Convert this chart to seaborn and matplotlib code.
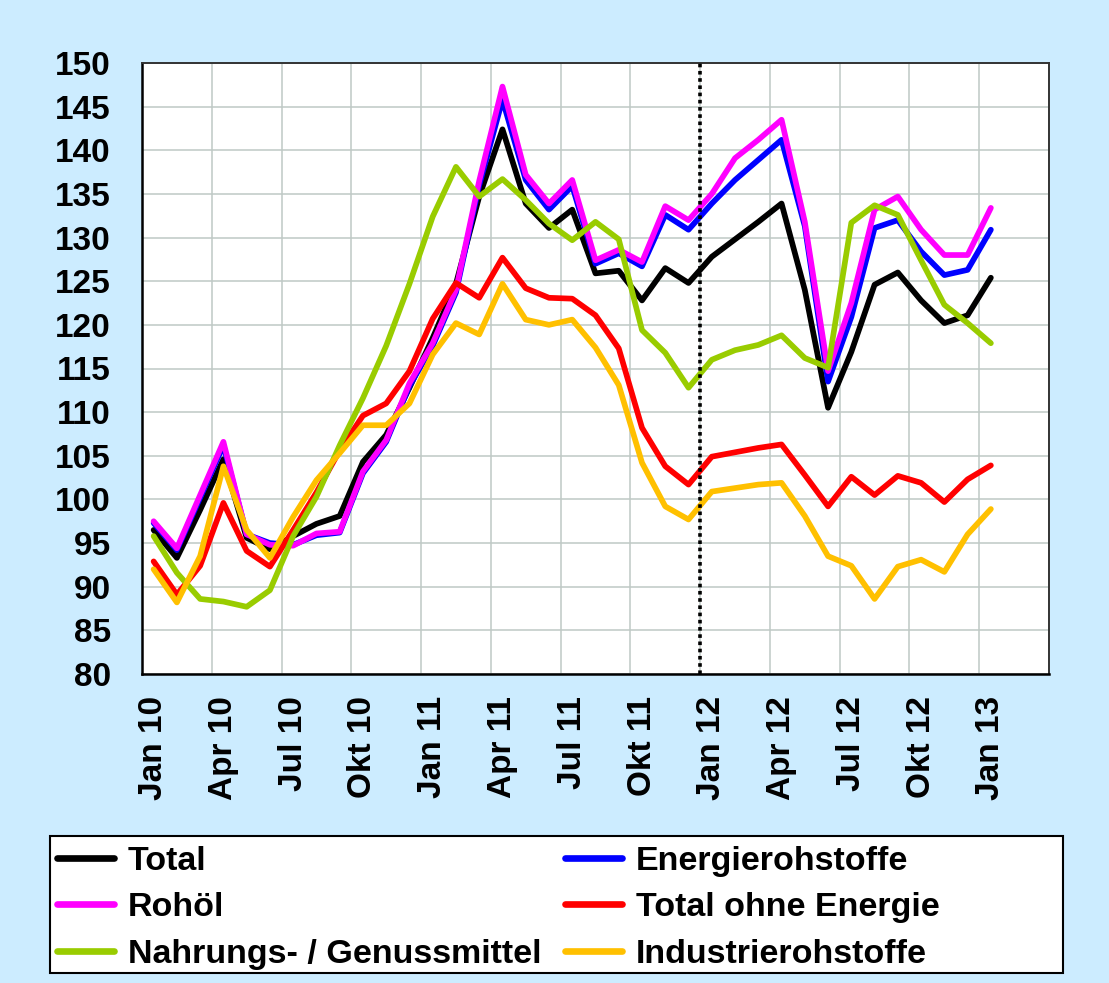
import numpy as np
import pandas as pd
import matplotlib
matplotlib.use("Agg")
import matplotlib.pyplot as plt
import seaborn as sns
from matplotlib.lines import Line2D
from matplotlib.patches import Rectangle

# ---------------- data ----------------
tick_labels = ["Jan 10", "Apr 10", "Jul 10", "Okt 10", "Jan 11", "Apr 11", "Jul 11",
               "Okt 11", "Jan 12", "Apr 12", "Jul 12", "Okt 12", "Jan 13"]

total = [96.5, 93.3, 98.8, 104.6, 95.6, 94.3, 95.8, 97.2, 98.1, 104.3, 107.4, 112.8,
         118.5, 124.7, 134.7, 142.4, 133.9, 131.1, 133.2, 125.9, 126.2, 122.8, 126.5, 124.8,
         127.8, 129.8, 131.8, 133.9, 124.0, 110.5, 116.9, 124.6, 126.0, 122.8, 120.2, 121.1,
         125.4]
energie = [97.3, 94.2, 100.2, 106.2, 96.0, 95.0, 94.8, 95.9, 96.2, 103.0, 106.6, 113.0,
           117.6, 123.7, 136.0, 145.8, 136.6, 133.2, 135.9, 127.0, 128.2, 126.7, 132.6, 130.9,
           133.9, 136.6, 138.9, 141.2, 131.3, 113.5, 120.9, 131.1, 132.0, 128.4, 125.7, 126.3,
           130.9]
rohoel = [97.5, 94.4, 100.5, 106.6, 96.0, 94.8, 94.7, 96.1, 96.3, 103.2, 106.8, 113.3,
          117.9, 124.0, 136.5, 147.3, 137.2, 133.9, 136.6, 127.4, 128.6, 127.2, 133.6, 132.0,
          135.0, 139.1, 141.2, 143.5, 131.8, 114.7, 122.5, 133.2, 134.7, 130.9, 128.0, 128.0,
          133.4]
ohne_energie = [92.9, 89.1, 92.4, 99.6, 94.1, 92.3, 96.5, 100.8, 105.6, 109.6, 111.0, 114.7,
                120.7, 124.8, 123.1, 127.7, 124.2, 123.1, 123.0, 121.1, 117.3, 108.2, 103.8, 101.7,
                104.9, 105.4, 105.9, 106.3, 102.8, 99.2, 102.6, 100.5, 102.7, 101.9, 99.7, 102.3,
                103.9]
nahrung = [95.8, 91.6, 88.6, 88.3, 87.7, 89.6, 95.8, 100.3, 106.2, 111.6, 117.6, 124.7,
           132.4, 138.1, 134.7, 136.7, 134.3, 131.6, 129.7, 131.8, 129.8, 119.4, 116.8, 112.8,
           116.0, 117.1, 117.7, 118.8, 116.2, 115.1, 131.7, 133.7, 132.6, 127.4, 122.3, 120.2,
           117.9]
industrie = [92.0, 88.2, 93.5, 103.8, 96.5, 93.3, 98.0, 102.2, 105.3, 108.5, 108.5, 111.0,
             116.6, 120.2, 118.9, 124.7, 120.6, 120.0, 120.6, 117.4, 113.1, 104.2, 99.2, 97.7,
             100.9, 101.3, 101.7, 101.9, 98.1, 93.5, 92.4, 88.6, 92.3, 93.1, 91.7, 96.0,
             98.9]

series_names = ["Total", "Energierohstoffe", "Rohöl", "Total ohne Energie",
                "Nahrungs- / Genussmittel", "Industrierohstoffe"]
series_values = [total, energie, rohoel, ohne_energie, nahrung, industrie]
series_colors = ["#000000", "#0000FF", "#FF00FF", "#FF0000", "#99CC00", "#FFC000"]

# ---------------- style ----------------
sns.set_style("white")
plt.rcParams["font.family"] = ["Liberation Sans", "DejaVu Sans"]
plt.rcParams["font.weight"] = "bold"
plt.rcParams["text.color"] = "black"
plt.rcParams["xtick.color"] = "black"
plt.rcParams["ytick.color"] = "black"
plt.rcParams["xtick.labelcolor"] = "black"
plt.rcParams["ytick.labelcolor"] = "black"

W, H = 1109, 983
fig = plt.figure(figsize=(W / 100, H / 100), dpi=100, facecolor="#CCECFF")
ax = fig.add_axes([142 / W, 1 - 674 / H, (1049 - 142) / W, (674 - 63) / H])
ax.set_facecolor("white")

n = len(total)
xpos = np.arange(n) + 0.5
for name, vals, col in zip(series_names, series_values, series_colors):
    sns.lineplot(x=xpos, y=vals, color=col, linewidth=4.1, ax=ax, legend=False,
                 solid_joinstyle="round", solid_capstyle="round")

ax.axvline(24, color="black", lw=2.6, linestyle=(0, (1, 1)), zorder=6)

ax.set_xlim(0, 39)
ax.set_ylim(80, 150)
ax.set_yticks(np.arange(80, 151, 5))
ax.set_xticks(np.arange(0, 40, 3))
ax.set_xticks(np.arange(0, n, 3) + 0.5, minor=True)
ax.set_xticklabels([], minor=False)
ax.set_xticklabels(tick_labels, minor=True, rotation=90, fontsize=24,
                   fontweight="bold", color="black")
ax.tick_params(axis="x", which="major", direction="inout", length=16, width=1.5,
               color="black", labelbottom=False)
ax.tick_params(axis="x", which="minor", length=0, pad=16, labelcolor="black")
ax.tick_params(axis="y", direction="out", length=7.5, width=1.5, color="black",
               pad=15, labelsize=24, labelcolor="black")
for lab in ax.get_yticklabels():
    lab.set_fontweight("bold")

ax.grid(True, which="major", axis="both", color="#BFC9C5", lw=1.1)
ax.set_axisbelow(True)
for s in ["left", "bottom"]:
    ax.spines[s].set_color("black")
    ax.spines[s].set_linewidth(1.8)
for s in ["top", "right"]:
    ax.spines[s].set_color("#333333")
    ax.spines[s].set_linewidth(1.4)
ax.set_xlabel("")
ax.set_ylabel("")

# ---------------- legend ----------------
fig.patches.append(Rectangle((50 / W, 1 - 973 / H), 1013 / W, 137 / H,
                             transform=fig.transFigure, facecolor="white",
                             edgecolor="black", lw=1.5, zorder=0))
order = [0, 2, 4, 1, 3, 5]
handles = [Line2D([], [], color=series_colors[i], lw=4.8, solid_capstyle="round")
           for i in order]
labels = [series_names[i] for i in order]
leg = fig.legend(handles, labels, loc="upper left", bbox_to_anchor=(57 / W, 1 - 846 / H),
                 ncol=2, frameon=False, prop={"size": 24.5, "weight": "bold"},
                 handlelength=1.67, handletextpad=0.41, columnspacing=0.7,
                 labelspacing=0.45, borderpad=0, borderaxespad=0)
for t in leg.get_texts():
    t.set_color("black")

fig.savefig("out.png", dpi=100, facecolor=fig.get_facecolor())
